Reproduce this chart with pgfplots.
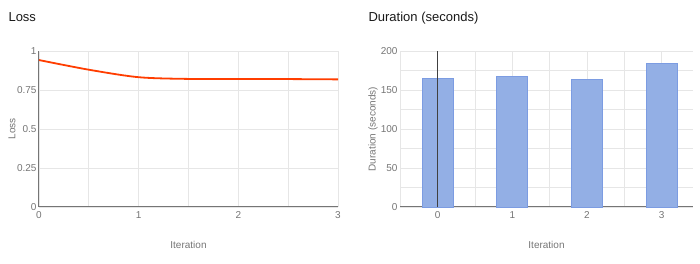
\documentclass[border=0pt]{standalone}
\usepackage{fontspec}
\setmainfont{Liberation Sans}
\usepackage{pgfplots}
\pgfplotsset{compat=1.18}
\definecolor{tickgray}{HTML}{757575}
\definecolor{gridgray}{HTML}{E6E6E6}
\definecolor{axisgray}{HTML}{757575}
\definecolor{lossred}{HTML}{FF3D00}
\definecolor{barfill}{HTML}{93AFE5}
\definecolor{barline}{HTML}{7C9CE2}
\begin{document}
\begin{tikzpicture}
\path[use as bounding box] (0pt,0pt) rectangle (700pt,264pt);
\pgfplotsset{
  every axis/.append style={
    scale only axis,
    font=\fontsize{10}{12}\selectfont,
    tick label style={text=tickgray},
    label style={text=tickgray},
    /pgf/number format/assume math mode=true,
    axis line style={axisgray, line width=1pt},
    major grid style={gridgray, line width=0.8pt},
    minor grid style={gridgray, line width=0.8pt},
    tick style={draw=none},
    axis x line*=bottom,
    axis y line*=left,
  }
}
\begin{axis}[
  at={(39pt,57pt)}, anchor=south west,
  width=299pt, height=156pt,
  xmin=0, xmax=3, ymin=0, ymax=1,
  xtick={0,1,2,3}, minor xtick={0.5,1.5,2.5},
  ytick={0,0.25,0.5,0.75,1},
  yticklabels={0,0.25,0.5,0.75,1},
  grid=both,
  xlabel={Iteration}, ylabel={Loss},
  xlabel style={at={(axis description cs:0.5,-0.245)}, anchor=center},
  ylabel style={at={(axis description cs:-0.09,0.5)}, anchor=center},
  xticklabel style={yshift=-1pt},
  yticklabel style={xshift=1pt},
  clip=false,
]
\addplot[lossred, line width=1.8pt, smooth, tension=0.5] coordinates {
  (0,0.942) (0.5,0.88) (1,0.832) (1.5,0.821) (2,0.821) (2.5,0.820) (3,0.818)
};
\end{axis}
\begin{axis}[
  at={(400pt,57pt)}, anchor=south west,
  width=293pt, height=156pt,
  xmin=-0.505, xmax=3.42, ymin=0, ymax=200,
  xtick={0,1,2,3}, minor xtick={-0.5,0.5,1.5,2.5},
  ytick={0,50,100,150,200}, minor ytick={25,75,125,175},
  grid=both,
  y axis line style={draw=none},
  xlabel={Iteration}, ylabel={Duration (seconds)},
  xlabel style={at={(axis description cs:0.5,-0.245)}, anchor=center},
  ylabel style={at={(axis description cs:-0.092,0.5)}, anchor=center},
  xticklabel style={yshift=-1pt},
  yticklabel style={xshift=1pt},
  clip=false,
]
\addplot[ybar, bar width=31pt, fill=barfill, draw=barline, line width=0.8pt] coordinates {
  (0,165) (1,167) (2,163) (3,184)
};
\addplot[black!75, line width=0.8pt] coordinates {(0,0) (0,200)};
\end{axis}
\node[anchor=base west, font=\fontsize{13}{15}\selectfont, text=black!90] at (5pt,242pt) {Loss};
\node[anchor=base west, font=\fontsize{13}{15}\selectfont, text=black!90] at (365pt,242pt) {Duration (seconds)};
\end{tikzpicture}
\end{document}
